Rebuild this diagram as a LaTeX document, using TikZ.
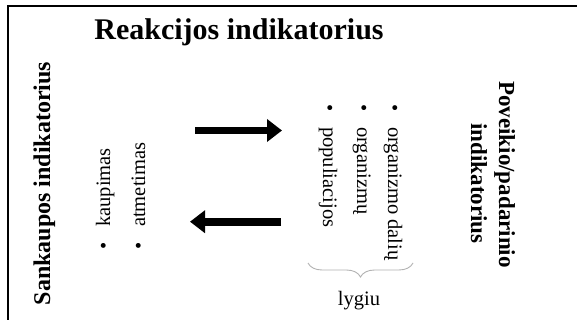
\documentclass[tikz,border=0pt]{standalone}
\usepackage{fontspec}
\setmainfont{Liberation Serif}
\usetikzlibrary{arrows.meta,decorations.pathreplacing}
\begin{document}
\begin{tikzpicture}[x=1pt,y=-1pt,
  heading/.style={font=\fontsize{30}{36}\selectfont\bfseries, inner sep=0pt},
  sidehead/.style={font=\fontsize{23}{28}\selectfont\bfseries, inner sep=0pt},
  listitem/.style={font=\fontsize{20.5}{24}\selectfont, inner sep=0pt, anchor=base west},
  blockarrow/.style={line width=7.6pt, -{Triangle[length=15pt,width=22pt]}},
  levelbrace/.style={draw=black!30, line width=0.9pt, decorate,
    decoration={brace, amplitude=14pt}},
  frameline/.style={line width=2.4pt}]
\newcommand{\bul}{\makebox[22.5pt][l]{•}}
\useasboundingbox (0,0) rectangle (577,320);
\fill[white] (0,0) rectangle (577,320);
% frame: left and top edges
\draw[frameline] (8,320) -- (8,6.3) -- (577,6.3);

% headings
\node[heading, anchor=base] (title) at (239,40) {Reakcijos indikatorius};
\node[sidehead, font=\fontsize{24}{28}\selectfont\bfseries, rotate=90, anchor=base] (accum) at (50,183.5) {Sankaupos indikatorius};
\node[sidehead, rotate=-90, anchor=base] (impact1) at (499,174.5) {Poveikio/padarinio};
\node[sidehead, rotate=-90, anchor=base] (impact2) at (471,183.5) {indikatorius};

% left list
\node[listitem, rotate=90] (kaup) at (110,249.5) {\bul kaupimas};
\node[listitem, rotate=90] (atm) at (145,249.5) {\bul atmetimas};

% middle list
\node[listitem, rotate=-90] (org1) at (388,104.5) {\bul organizmo dalių};
\node[listitem, rotate=-90] (org2) at (357,104.5) {\bul organizmų};
\node[listitem, rotate=-90] (pop) at (323,104.5) {\bul populiacijos};

% arrows between the lists
\coordinate (r0) at (195,130.5);
\coordinate (r1) at (282,130.5);
\coordinate (l0) at (281,221.7);
\coordinate (l1) at (190,221.7);
\draw[blockarrow] (r0) -- (r1);
\draw[blockarrow] (l0) -- (l1);

% brace and level label
\coordinate (braceR) at (413,263);
\coordinate (braceL) at (308,263);
\draw[levelbrace] (braceR) -- (braceL);
\node[font=\fontsize{20.5}{24}\selectfont, inner sep=0pt, anchor=base] (level) at (359,305) {lygiu};
\end{tikzpicture}
\end{document}
